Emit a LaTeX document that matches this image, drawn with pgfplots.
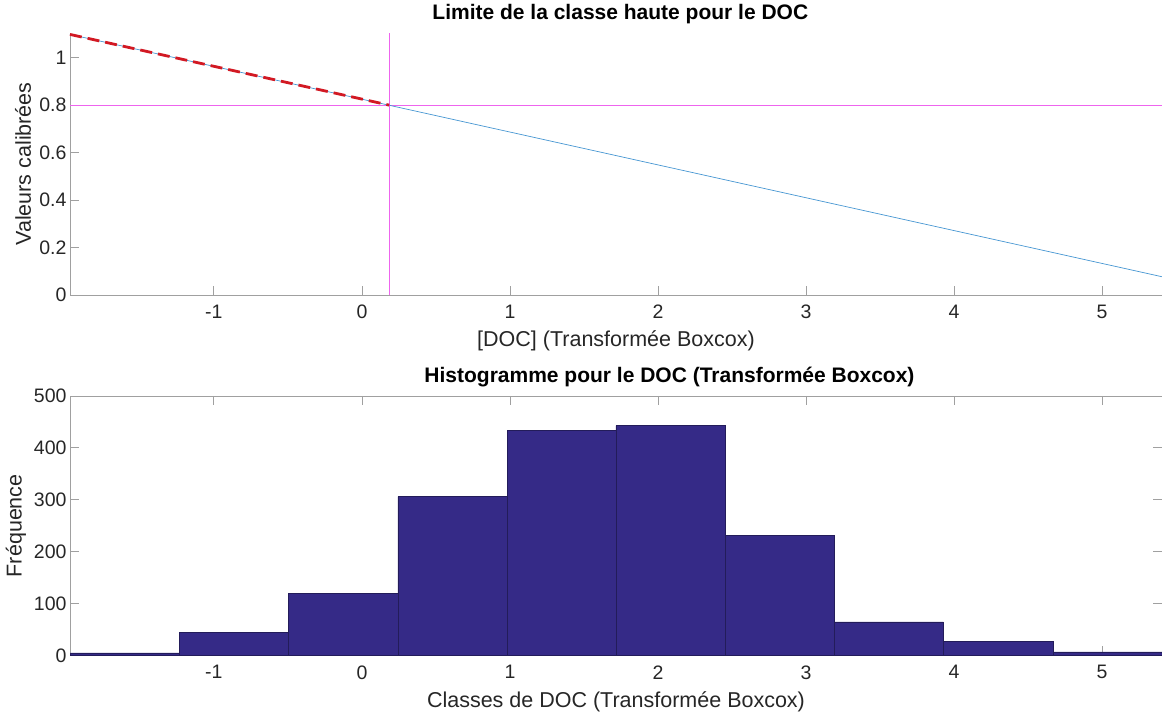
\documentclass[border=0pt]{standalone}
\usepackage{fontspec}
\setmainfont{Liberation Sans}
\usepackage{pgfplots}
\pgfplotsset{compat=1.18}
\definecolor{txt}{RGB}{38,38,38}
\definecolor{axgray}{RGB}{160,160,160}
\definecolor{lineblue}{RGB}{70,150,210}
\definecolor{dashred}{RGB}{210,25,35}
\definecolor{histfill}{RGB}{53,42,135}
\definecolor{histedge}{RGB}{35,28,90}
\definecolor{magline}{RGB}{238,100,238}
\begin{document}
\begin{tikzpicture}[x=1pt,y=1pt]
\pgfplotsset{
  common/.style={
    scale only axis,
    width=1092pt,
    tick align=inside,
    major tick length=9pt,
    axis line style={axgray, line width=0.8pt},
    every tick/.style={axgray, line width=0.8pt},
    tick label style={font=\fontsize{19.5}{22}\selectfont, text=txt},
    label style={font=\fontsize{21.5}{24}\selectfont, text=txt},
    title style={font=\fontsize{21}{24}\selectfont\bfseries, text=black},
    xticklabel style={yshift=-6.5pt},
    xmin=-1.972, xmax=5.404,
    xtick={-1,0,1,2,3,4,5},
    xticklabels={-1,0,1,2,3,4,5},
  }
}
% Top axis
\begin{axis}[common,
  at={(70pt,420pt)}, anchor=south west,
  height=262pt,
  axis lines*=left,
  ymin=0, ymax=1.104,
  ytick={0,0.2,0.4,0.6,0.8,1},
  yticklabels={0,0.2,0.4,0.6,0.8,1},
  xlabel={[DOC] (Transformée Boxcox)},
  xlabel style={at={(axis description cs:0.5,-0.176)}, anchor=center},
  ylabel={Valeurs calibrées},
  ylabel style={at={(axis description cs:-0.043,0.5)}, anchor=center},
  title={Limite de la classe haute pour le DOC},
  title style={at={(axis description cs:0.504,1)}, anchor=center, yshift=13pt},
  clip=false,
]
\addplot[magline, line width=1.2pt] coordinates {(-1.972,0.8) (5.404,0.8)};
\addplot[magline, line width=1.2pt] coordinates {(0.184,0) (0.184,1.104)};
\addplot[lineblue, line width=0.7pt] coordinates {(-1.972,1.098) (5.404,0.077)};
\addplot[dashred, line width=2.8pt, dash pattern=on 12pt off 6pt] coordinates {(-1.972,1.098) (0.184,0.8)};
\end{axis}
% Bottom axis
\begin{axis}[common,
  at={(70pt,59.5pt)}, anchor=south west,
  height=259.5pt,
  ymin=0, ymax=500,
  ytick={0,100,200,300,400,500},
  yticklabels={0,100,200,300,400,500},
  xlabel={Classes de DOC (Transformée Boxcox)},
  xlabel style={at={(axis description cs:0.5,-0.177)}, anchor=center},
  ylabel={Fréquence},
  ylabel style={at={(axis description cs:-0.0495,0.5)}, anchor=center},
  title={Histogramme pour le DOC (Transformée Boxcox)},
  title style={at={(axis description cs:0.549,1)}, anchor=center, yshift=13pt},
]
\addplot[ybar interval, fill=histfill, draw=histedge, line width=0.5pt] coordinates {
(-1.972,5) (-1.235,45) (-0.498,119) (0.242,306) (0.980,434) (1.716,443)
(2.451,231) (3.190,65) (3.928,27) (4.667,7) (5.404,7)};
\end{axis}
\pgfresetboundingbox
\useasboundingbox (0,0) rectangle (1162pt,715pt);
\end{tikzpicture}
\end{document}
